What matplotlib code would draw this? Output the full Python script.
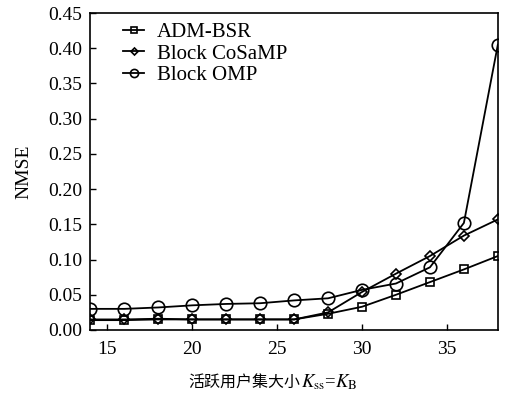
import matplotlib
matplotlib.use("Agg")
import matplotlib.pyplot as plt

plt.rcParams["font.family"] = ["Liberation Serif", "Noto Sans CJK SC"]
plt.rcParams["mathtext.fontset"] = "stix"

k_values = [14, 16, 18, 20, 22, 24, 26, 28, 30, 32, 34, 36, 38]
adm_bsr = [0.014, 0.014, 0.015, 0.015, 0.015, 0.015, 0.015, 0.023, 0.033, 0.050, 0.068, 0.086, 0.105]
block_cosamp = [0.015, 0.015, 0.016, 0.015, 0.015, 0.015, 0.015, 0.025, 0.054, 0.080, 0.105, 0.134, 0.157]
block_omp = [0.030, 0.030, 0.032, 0.035, 0.037, 0.038, 0.042, 0.045, 0.057, 0.066, 0.089, 0.152, 0.405]

x_ticks = [15, 20, 25, 30, 35]
y_ticks = [0.00, 0.05, 0.10, 0.15, 0.20, 0.25, 0.30, 0.35, 0.40, 0.45]

fig = plt.figure(figsize=(5.08, 4.0), dpi=100)
ax = fig.add_axes([0.178, 0.175, 0.802, 0.7925])

style = dict(color="black", linewidth=1.3, markerfacecolor="none", markeredgewidth=1.2)
ax.plot(k_values, adm_bsr, marker="s", markersize=6, label="ADM-BSR", **style)
ax.plot(k_values, block_cosamp, marker="D", markersize=5.5, label="Block CoSaMP", **style)
ax.plot(k_values, block_omp, marker="o", markersize=9, label="Block OMP", **style)

ax.set_xlim(14, 38)
ax.set_ylim(0, 0.45)
ax.set_xticks(x_ticks)
ax.set_yticks(y_ticks)
ax.set_yticklabels([f"{v:.2f}" for v in y_ticks])
ax.tick_params(direction="in", labelsize=14, length=4, width=1, pad=6, top=False, right=False)
ax.tick_params(axis="x", pad=8)
for spine in ax.spines.values():
    spine.set_linewidth(1.2)

ax.set_ylabel("NMSE", fontsize=14, labelpad=11)

# Chinese part and math part drawn separately: mathtext has no CJK glyphs
fig.text(0.592, 0.032, "活跃用户集大小", fontsize=11.5, ha="right", va="baseline",
         family=["Noto Sans CJK SC"])
fig.text(0.592, 0.032, r"$K_{\mathrm{ss}}$=$K_{\mathrm{B}}$", fontsize=13.5, ha="left", va="baseline")

ax.legend(loc="upper left", bbox_to_anchor=(0.05, 1.01), frameon=False, fontsize=15,
          handlelength=1.0, handletextpad=0.6, labelspacing=0.1, markerscale=0.65,
          borderaxespad=0.2)

fig.savefig("out.png", dpi=100)
